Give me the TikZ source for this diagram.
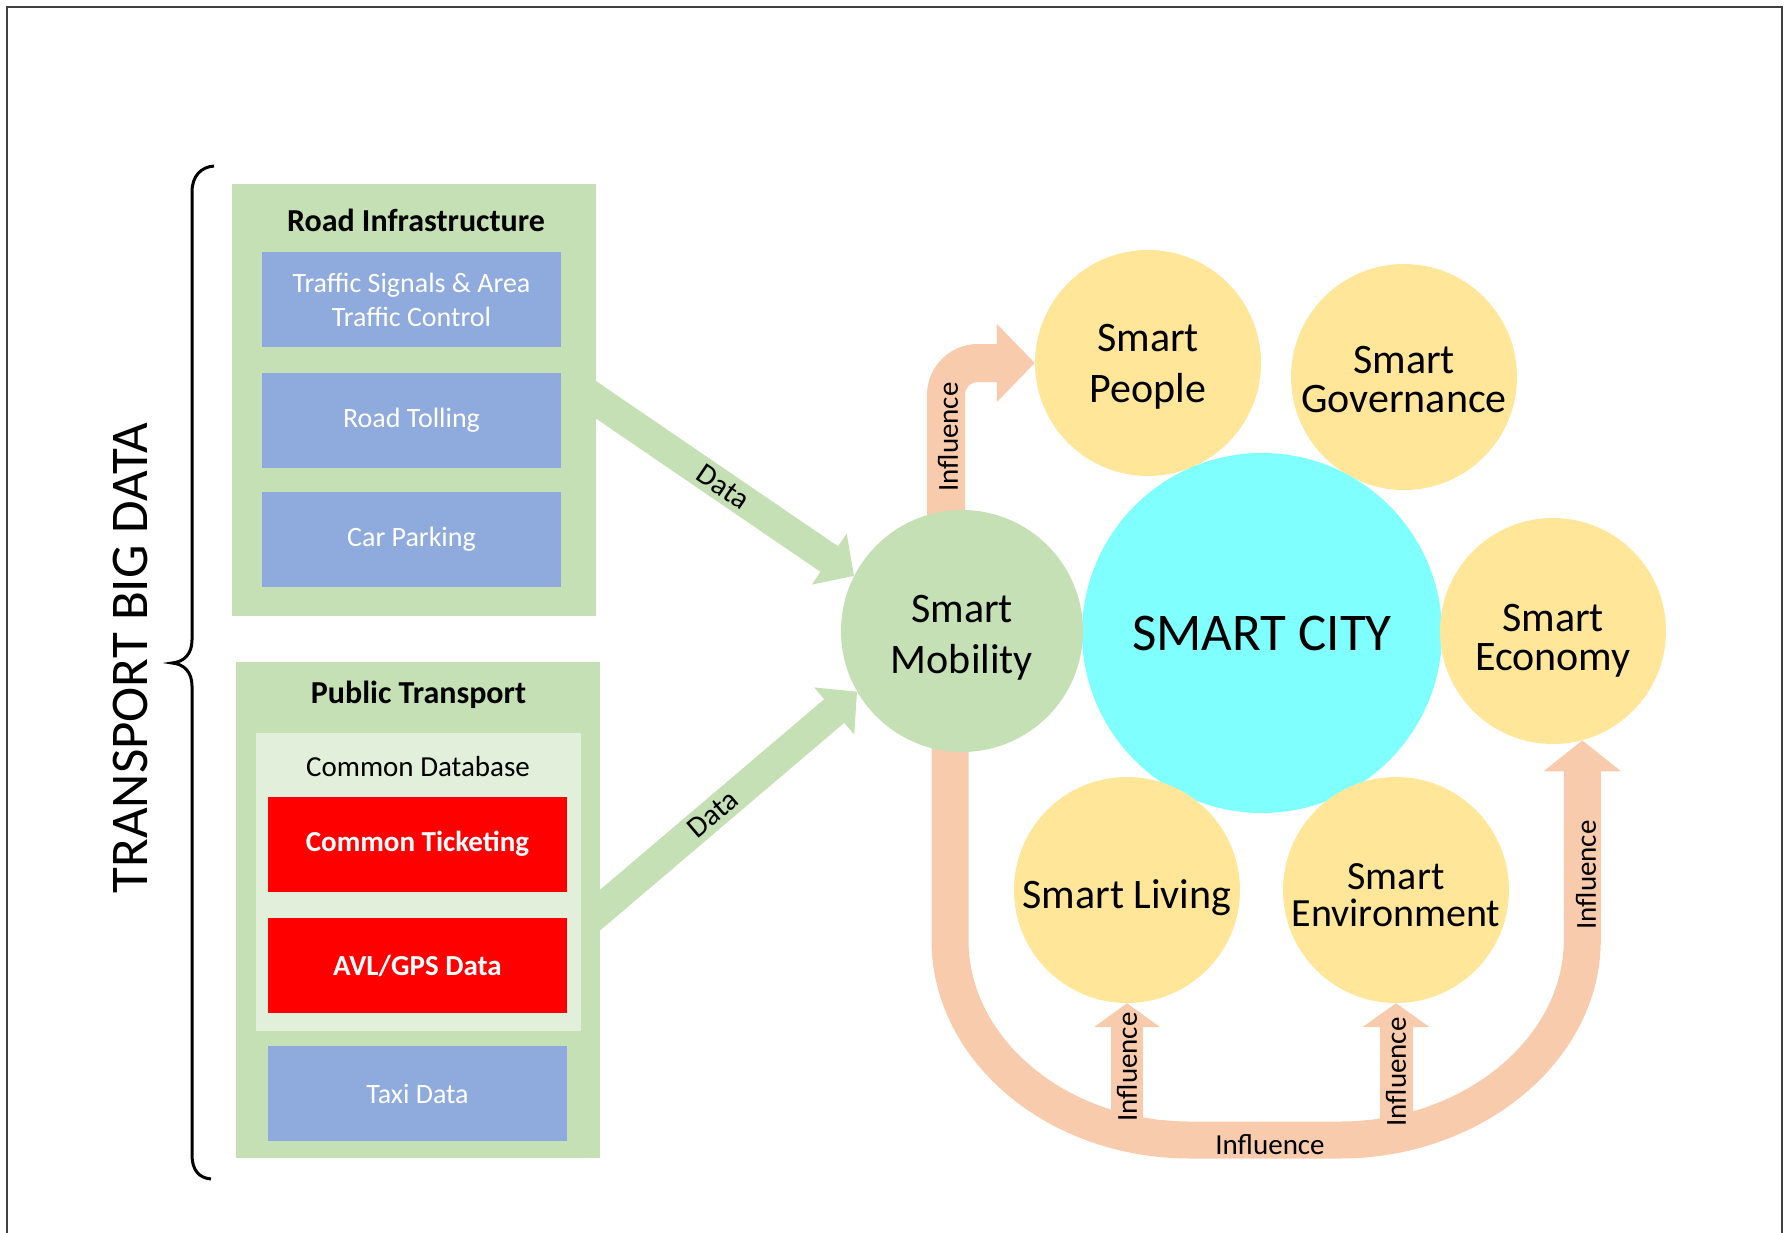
\documentclass[tikz,border=0pt]{standalone}
\usepackage{fontspec}
\setmainfont{Carlito}
\usetikzlibrary{arrows.meta,calc}
\pgfdeclarelayer{bg}
\pgfsetlayers{bg,main}
\definecolor{boxgreen}{HTML}{C5E0B4}
\definecolor{lightg}{HTML}{E2EFDA}
\definecolor{boxblue}{HTML}{8FAADC}
\definecolor{boxred}{HTML}{FF0000}
\definecolor{ycol}{HTML}{FFE699}
\definecolor{cyanc}{HTML}{80FFFF}
\definecolor{peach}{HTML}{F8CBAD}
\definecolor{framec}{HTML}{404040}
\newcommand\myfs[2]{\fontsize{#1pt}{#2pt}\selectfont}
\tikzset{
  greenbox/.style={fill=boxgreen, inner sep=0pt, minimum width=364pt},
  bluebox/.style={fill=boxblue, text=white, inner sep=0pt, minimum width=299pt, minimum height=95pt, align=center, font=\myfs{28}{34}},
  redbox/.style={fill=boxred, text=white, inner sep=0pt, minimum width=299pt, minimum height=95pt, font=\myfs{29}{35}\bfseries},
  boxtitle/.style={font=\myfs{32}{38}\bfseries, inner sep=0pt},
  ycirc/.style={circle, fill=ycol, inner sep=0pt, minimum size=226pt},
  circtext/.style={inner sep=0pt, align=center, font=\myfs{42}{39}},
  infl/.style={draw=peach},
  datarrow/.style={draw=boxgreen, line width=31pt, -{Triangle[width=60pt,length=30pt]}},
  lbl/.style={font=\myfs{29}{34}, inner sep=0pt},
  datalbl/.style={font=\myfs{30}{36}, inner sep=0pt, sloped},
}
\begin{document}
\begin{tikzpicture}[x=1pt,y=-1pt]
\useasboundingbox (0,0) rectangle (1791,1233);
% frame
\draw[framec, line width=2pt] (6.5,1233) -- (6.5,7) -- (1782,7) -- (1782,1233);

% left boxes
\node[greenbox, minimum height=432pt] (ri) at (414,400) {};
\node[boxtitle] (rit) at (416,220) {Road Infrastructure};
\node[bluebox] (tsc) at (411.5,299.5) {Traffic Signals \& Area\\Traffic Control};
\node[bluebox] (toll) at (411.5,420.5) {Road Tolling};
\node[bluebox] (park) at (411.5,539.5) {Car Parking};

\node[greenbox, minimum height=496pt] (pt) at (418,910) {};
\node[boxtitle] (ptt) at (418.5,695) {Public Transport};
\node[fill=lightg, inner sep=0pt, minimum width=325pt, minimum height=298pt] (cdb) at (418.5,882) {};
\node[font=\myfs{29}{35}, inner sep=0pt] (cdbt) at (418,767) {Common Database};
\node[redbox] (tick) at (417.5,844) {Common Ticketing};
\node[redbox] (avl) at (417.5,965.5) {AVL/GPS Data};
\node[bluebox] (taxi) at (417.5,1093.5) {Taxi Data};

% brace and title
\draw[line width=3pt] (214,166) .. controls (201,167) and (192,176) .. (192,192) -- (192,640)
  .. controls (192,654) and (184,662) .. (172,663) .. controls (184,664) and (192,672) .. (192,686)
  -- (192,1155) .. controls (192,1170) and (199,1178) .. (211,1179);
\node[font=\myfs{53}{60}, rotate=90, inner sep=0pt] (tbd) at (130,658) {TRANSPORT BIG DATA};

% circles
\node[ycirc] (people) at (1148,363) {};
\node[circtext, font=\myfs{42}{51}] (peoplet) at ($(people.center)+(0,4)$) {Smart\\People};
\node[ycirc] (gov) at (1404,377) {};
\node[circtext] (govt) at ($(gov.center)+(0,3)$) {Smart\\Governance};
\node[circle, fill=cyanc, inner sep=0pt, minimum size=360pt, font=\myfs{53}{60}] (city) at (1262,633) {SMART CITY};
\node[ycirc] (living) at (1127,890) {};
\node[circtext] (livingt) at ($(living.center)+(0,8)$) {Smart Living};
\node[ycirc] (env) at (1396,890) {};
\node[circtext, font=\myfs{40}{37}] (envt) at ($(env.center)+(0,5)$) {Smart\\Environment};
\node[ycirc] (econ) at (1553,631) {};
\node[circtext] (econt) at ($(econ.center)+(0,10)$) {Smart\\Economy};
\node[circle, fill=boxgreen, inner sep=0pt, minimum size=242pt] (mob) at (962,631) {};
\node[circtext, font=\myfs{42}{51}] (mobt) at ($(mob.center)+(0,7)$) {Smart\\Mobility};

% connectors
\coordinate (uL) at (950,940);
\coordinate (ub) at (1265,1140);
\coordinate (uR) at (econ.-75 |- uL);
\begin{pgfonlayer}{bg}
\draw[datarrow] ([xshift=-20pt,yshift=13.7pt]ri.east) -- node[datalbl, pos=0.53] (d1) {Data} (mob.153);
\draw[datarrow] ([xshift=-20pt,yshift=-17pt]pt.east) -- node[datalbl, pos=0.48] (d2) {Data} (mob.210);
\draw[infl, line width=38pt, rounded corners=32pt, -{Triangle[width=76pt,length=38pt]}]
  ([xshift=-16pt]mob.center) |- (people.west);
\draw[infl, line width=37pt, -{Triangle[width=76pt,length=31pt]}]
  (uL |- mob.center) -- (uL) .. controls (950,1050) and (1057,1140) .. (1190,1140)
  -- (1340,1140) .. controls (1472,1140) and ($(uR)+(0,110)$) .. (uR) -- (econ.-75);
\draw[infl, line width=32.5pt, -{Triangle[width=65pt,length=24pt]}] (living.south |- ub) -- (living.south);
\draw[infl, line width=33pt, -{Triangle[width=66pt,length=24pt]}] (env.south |- ub) -- (env.south);
\end{pgfonlayer}

% influence labels
\node[lbl, rotate=90] (il1) at (948,437) {Influence};
\node[lbl, rotate=90] (il2) at (1586,875) {Influence};
\node[lbl] (il3) at (1270,1145) {Influence};
\node[lbl, rotate=90] (il4) at (1127,1067) {Influence};
\node[lbl, rotate=90] (il5) at (1396,1072) {Influence};
\end{tikzpicture}
\end{document}
